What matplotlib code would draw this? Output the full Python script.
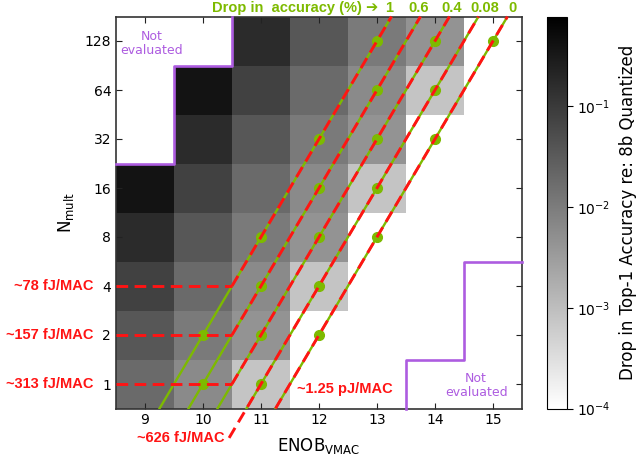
# Heatmap: Drop in Top-1 accuracy vs ENOB and Nmult, with iso-accuracy / iso-energy lines
import numpy as np
import matplotlib.pyplot as plt
from matplotlib.colors import LogNorm

# Daten
enob = np.array([9, 10, 11, 12, 13, 14, 15])
nmult = np.array([1, 2, 4, 8, 16, 32, 64, 128])
nan = np.nan
# Zeilen: Nmult 1 -> 128, Spalten: ENOB 9 -> 15 ; nan = not evaluated, 0 = no drop
drop = np.array([
    [0.019, 0.0062, 0.0008, 0, 0, nan, nan],
    [0.036, 0.0105, 0.0045, 0, 0, 0, nan],
    [0.078, 0.019, 0.0062, 0.0008, 0, 0, nan],
    [0.17, 0.036, 0.0105, 0.0045, 0, 0, 0],
    [0.39, 0.078, 0.019, 0.0062, 0.0008, 0, 0],
    [nan, 0.17, 0.036, 0.0105, 0.0045, 0, 0],
    [nan, 0.39, 0.078, 0.019, 0.0062, 0.0008, 0],
    [nan, nan, 0.17, 0.036, 0.0105, 0.0045, 0],
])

# Iso-accuracy lines (green dots) and matching iso-energy labels
contour_labels = ["1", "0.6", "0.4", "0.08", "0"]
contour_enob = [[10, 11, 12, 13], [10, 11, 12, 13], [11, 12, 13, 14], [11, 12, 13, 14], [12, 13, 14, 15]]
contour_nmult = [[2, 8, 32, 128], [1, 4, 16, 64], [2, 8, 32, 128], [1, 4, 16, 64], [2, 8, 32, 128]]
energy_labels = ["~78 fJ/MAC", "~157 fJ/MAC", "~313 fJ/MAC", "~626 fJ/MAC", "~1.25 pJ/MAC"]
energy_start = [4, 2, 1, 2 ** -1.1, 2 ** -0.5]  # Nmult where the red iso-energy line begins

green = "#7dba00"
red = "#ff1414"
purple = "#ad5ce0"
bold_font = ["Liberation Sans", "DejaVu Sans"]

fig = plt.figure(figsize=(6.39, 4.55), dpi=100)
ax = fig.add_axes([116 / 639, 46.5 / 455, 406 / 639, 392 / 455])
cax = fig.add_axes([547 / 639, 46.5 / 455, 20 / 639, 392 / 455])

x_edges = np.append(enob - 0.5, enob[-1] + 0.5)
y_edges = np.append(nmult / np.sqrt(2), nmult[-1] * np.sqrt(2))
norm = LogNorm(vmin=1e-4, vmax=10 ** -0.11)
mesh = ax.pcolormesh(x_edges, y_edges, drop, cmap="gray_r", norm=norm)

ax.set_yscale("log", base=2)
ax.set_xlim(x_edges[0], x_edges[-1])
ax.set_ylim(y_edges[0], y_edges[-1])
ax.set_xticks(enob)
ax.set_xticklabels([str(e) for e in enob])
ax.set_yticks(nmult)
ax.set_yticklabels([str(n) for n in nmult])
ax.minorticks_off()
ax.tick_params(direction="in", top=True, right=True, length=4, labelsize=10, color="#222222")
for sp in ax.spines.values():
    sp.set_color("#333333")
    sp.set_linewidth(1.2)

ax.set_xlabel(r"ENOB$_{\mathrm{VMAC}}$", fontsize=12, labelpad=6)
ax.set_ylabel(r"N$_{\mathrm{mult}}$", fontsize=12, labelpad=6)

# Not evaluated regions (purple step border from nan mask)
mask = np.isnan(drop)
n_rows = len(nmult)
top_px, top_py = [], []
bot_px, bot_py = [], []
for c in range(len(enob)):
    col = mask[:, c]
    k_top = 0
    while k_top < n_rows and col[n_rows - 1 - k_top]:
        k_top += 1
    k_bot = 0
    while k_bot < n_rows and col[k_bot]:
        k_bot += 1
    if k_top > 0:
        yb = y_edges[n_rows - k_top]
        top_px += [x_edges[c], x_edges[c + 1]]
        top_py += [yb, yb]
    if k_bot > 0:
        yb = y_edges[k_bot]
        bot_px += [x_edges[c], x_edges[c + 1]]
        bot_py += [yb, yb]
top_px.append(top_px[-1]); top_py.append(y_edges[-1])
bot_px.insert(0, bot_px[0]); bot_py.insert(0, y_edges[0])
ax.plot(top_px, top_py, color=purple, lw=1.9, zorder=6, clip_on=False)
ax.plot(bot_px, bot_py, color=purple, lw=1.9, zorder=6, clip_on=False)
ax.text(9.12, 2 ** 6.95, "Not\nevaluated", color=purple, fontsize=9, ha="center", va="center",
        linespacing=1.15)
ax.text(14.71, 2 ** -0.03, "Not\nevaluated", color=purple, fontsize=9, ha="center", va="center",
        linespacing=1.15)

# Iso-accuracy (green) and iso-energy (red dashed) lines
lo, hi = np.log2(y_edges[0]), np.log2(y_edges[-1])
dash = (0, (4, 2.2))
for k in range(len(contour_labels)):
    xs = np.array(contour_enob[k], dtype=float)
    ls = np.log2(contour_nmult[k])
    a, b = np.polyfit(xs, ls, 1)
    x_lo, x_hi = (lo - b) / a, (hi - b) / a
    ax.plot([x_lo, x_hi], [y_edges[0], y_edges[-1]], color=green, lw=1.7, zorder=3)
    ax.plot(xs, contour_nmult[k], "o", color=green, ms=7, zorder=4)
    s = np.log2(energy_start[k])
    x_s = (s - b) / a
    ax.plot([x_s, x_hi], [2 ** s, y_edges[-1]], color=red, lw=2.1, ls=dash, zorder=5, clip_on=False)
    if energy_start[k] >= 1:
        ax.plot([x_edges[0], x_s], [energy_start[k], energy_start[k]], color=red, lw=2.1, ls=dash, zorder=5)
        ax.annotate(energy_labels[k], xy=(-0.055, energy_start[k]),
                    xycoords=("axes fraction", "data"), ha="right", va="center",
                    color=red, fontsize=10.5, fontweight="bold", family=bold_font)
    # label of the accuracy line above the plot
    ax.annotate(contour_labels[k], xy=(x_hi + [-0.04, -0.03, 0.04, 0.11, 0.08][k], 1.021),
                xycoords=("data", "axes fraction"), ha="center", va="center",
                color=green, fontsize=10.5, fontweight="bold", family=bold_font)

ax.text(10.38, 2 ** -1.1, energy_labels[3], color=red, fontsize=10.5, fontweight="bold",
        family=bold_font, ha="right", va="center")
ax.text(11.62, 2 ** -0.1, energy_labels[4], color=red, fontsize=10.5, fontweight="bold",
        family=bold_font, ha="left", va="center")
ax.annotate("Drop in  accuracy (%) \u2794", xy=(13.02, 1.021), xycoords=("data", "axes fraction"),
            ha="right", va="center", color=green, fontsize=10.5, fontweight="bold", family=bold_font)

# Colorbar
cb = fig.colorbar(mesh, cax=cax)
cb.ax.minorticks_off()
cb.ax.tick_params(labelsize=10, length=4)
cb.outline.set_linewidth(0.8)
cb.set_label("Drop in Top-1 Accuracy re: 8b Quantized", fontsize=12, labelpad=6)

fig.savefig("out.png", dpi=100)
